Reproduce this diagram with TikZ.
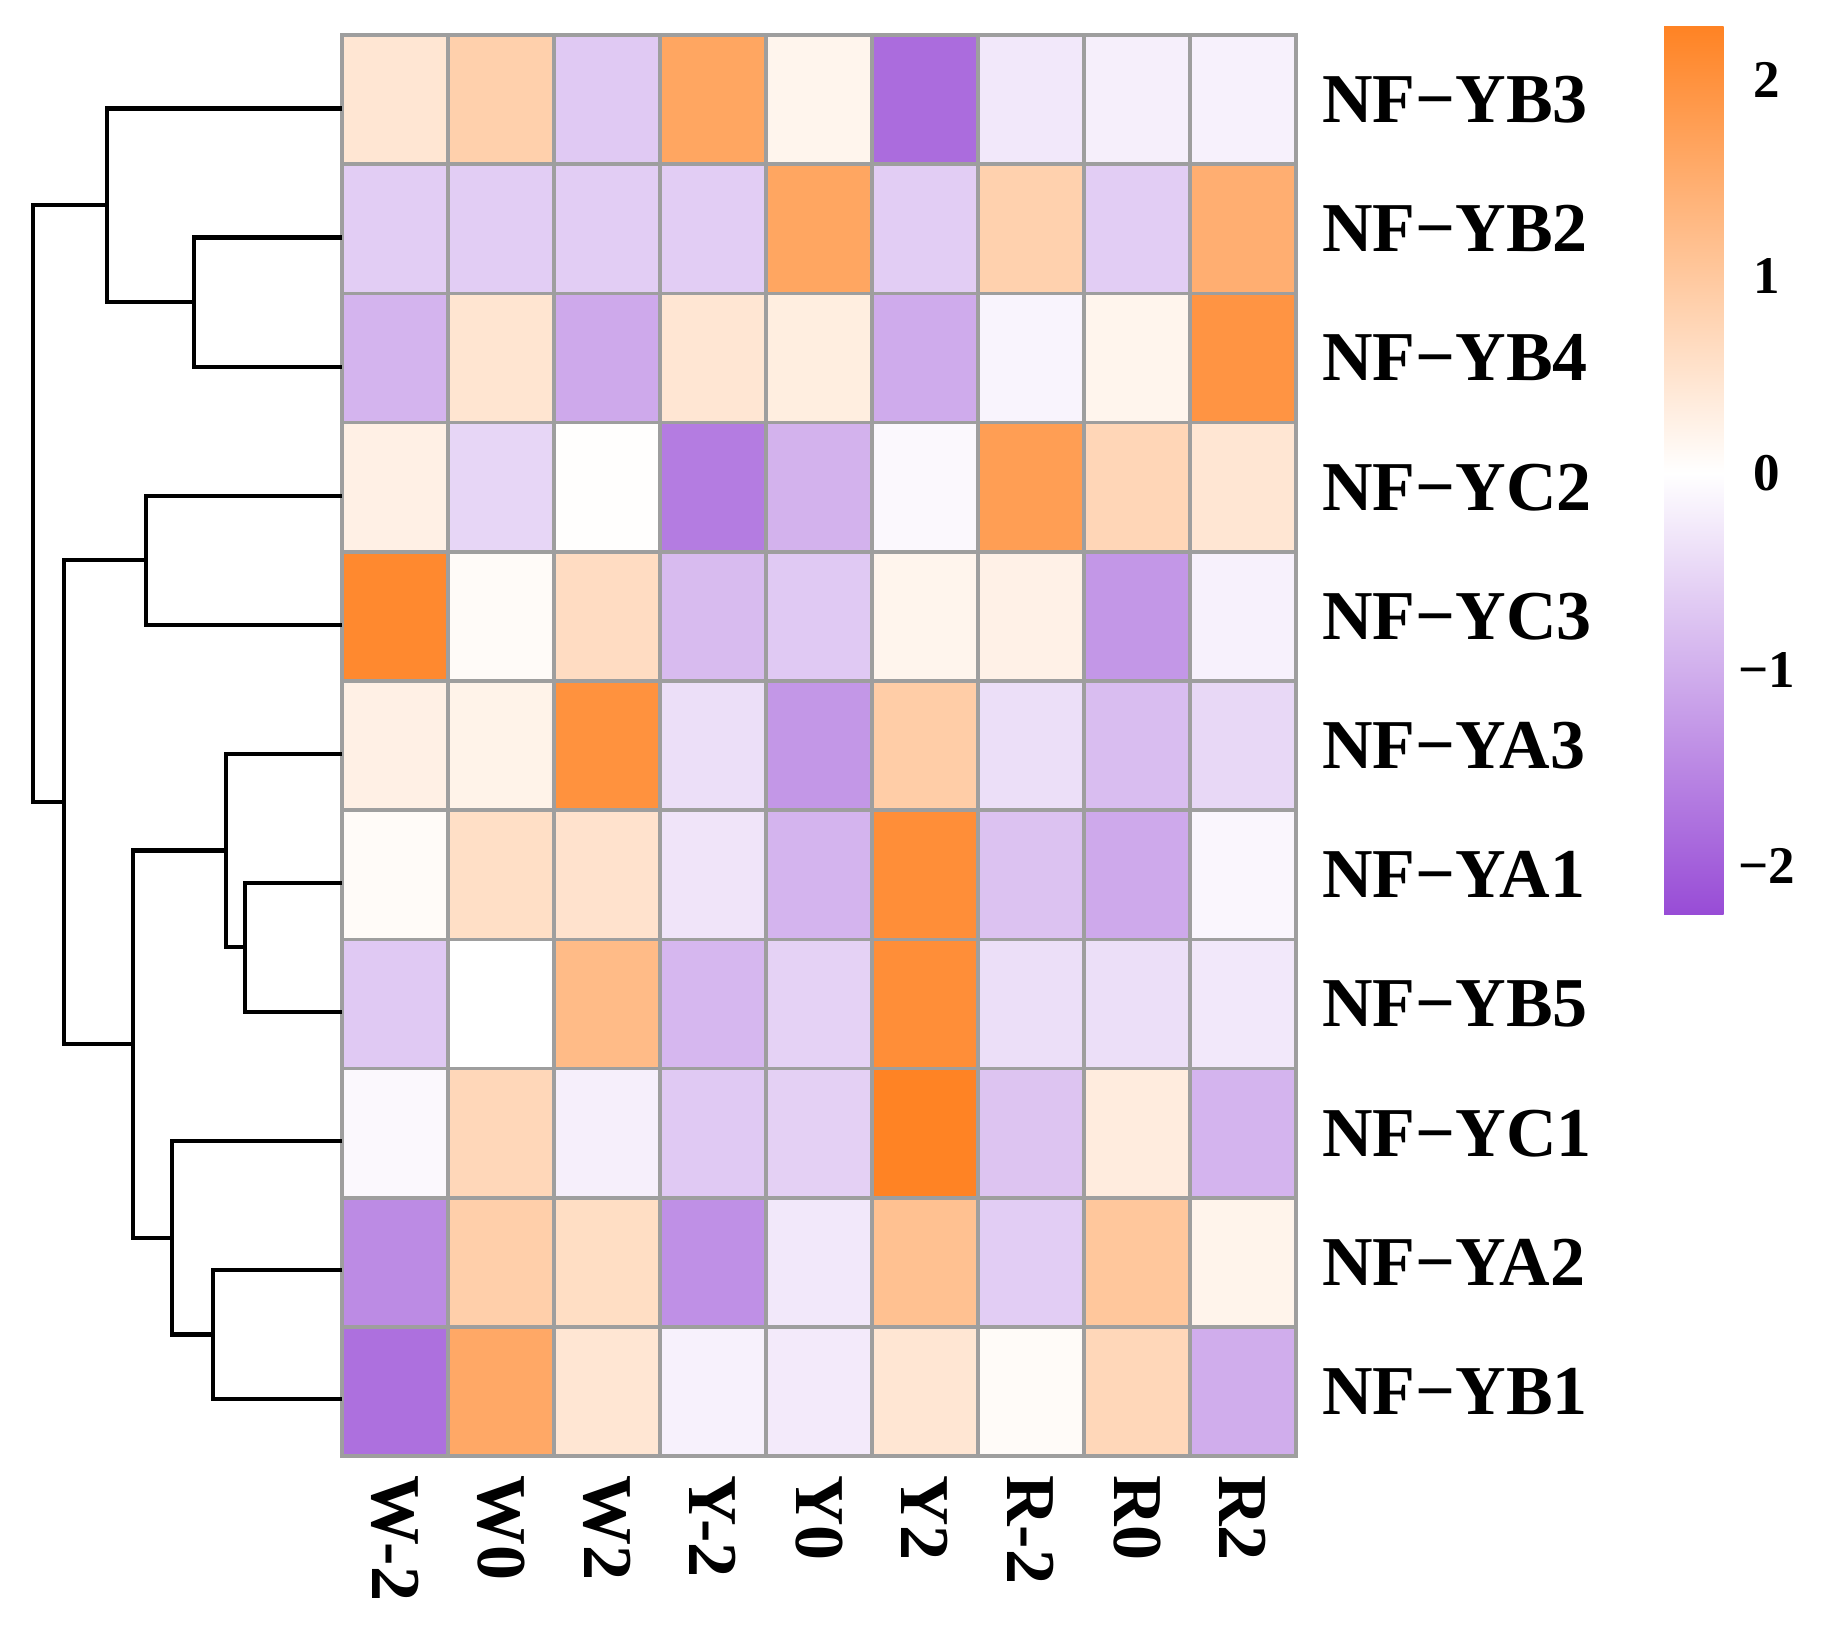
\documentclass[tikz,border=0pt]{standalone}
\usepackage{fontspec}
\setmainfont{Liberation Serif}
\usepackage{xcolor}
\definecolor{hiorange}{RGB}{255,131,36}
\definecolor{lopurple}{RGB}{152,76,214}
\definecolor{gridgray}{RGB}{158,158,158}

\begin{document}
\begin{tikzpicture}[x=0.5pt, y=0.5pt,
  cell/.style={draw=gridgray, line width=1.75pt},
  dendro/.style={line width=2.1pt},
  genelabel/.style={anchor=west, inner sep=0pt, font=\fontsize{35}{35}\selectfont\bfseries},
  samplelabel/.style={anchor=west, rotate=-90, inner sep=0pt, font=\fontsize{35}{35}\selectfont\bfseries},
  ticklabel/.style={inner sep=0pt, font=\fontsize{26.5}{26.5}\selectfont\bfseries}]
  \useasboundingbox (0,0) rectangle (1829,-1631);

  % heatmap cells and gene labels
  \foreach \gene/\vals [count=\r] in {
      B3/{20,38,-30,72,8,-82,-13,-9,-8},
      B2/{-28,-28,-28,-28,72,-28,37,-28,65},
      B4/{-42,21,-48,20,14,-47,-6,8,86},
      C2/{12,-23,1,-73,-43,-4,78,33,20},
      C3/{95,3,28,-38,-30,8,11,-58,-8},
      A3/{12,10,88,-18,-58,40,-18,-37,-22},
      A1/{3,26,23,-15,-42,91,-34,-48,-5},
      B5/{-30,0,55,-40,-25,91,-18,-18,-13},
      C1/{-4,32,-9,-30,-26,100,-33,15,-42},
      A2/{-65,39,27,-62,-13,50,-28,45,9},
      B1/{-80,70,20,-8,-12,20,3,32,-46}}{
    \pgfmathsetmacro{\yt}{-35-(\r-1)*129.2}
    \pgfmathsetmacro{\yl}{-108.5-(\r-1)*129.05}
    \foreach \v [count=\c] in \vals {
      \pgfmathtruncatemacro{\a}{abs(\v)}
      \ifnum\v<0 \colorlet{cellc}{lopurple!\a!white}\else\colorlet{cellc}{hiorange!\a!white}\fi
      \pgfmathsetmacro{\xl}{342+(\c-1)*106}
      \draw[cell, fill=cellc] (\xl,\yt) rectangle ++(106,-129.2);
    }
    \node[genelabel] (gene-\gene) at (1322,\yt-64.6) {NF−Y\gene};
    \coordinate (leaf-\gene) at (342,\yl);
  }

  % sample labels
  \foreach \s [count=\c] in {W-2,W0,W2,Y-2,Y0,Y2,R-2,R0,R2}
    \node[samplelabel] (sample-\c) at (342+\c*106-53,-1475) {\s};

  % dendrogram
  \coordinate (n1) at (194,-302.1);
  \coordinate (n2) at (107,-205.3);
  \coordinate (n3) at (145.7,-560.2);
  \coordinate (n4) at (245,-947.3);
  \coordinate (n5) at (226,-850.5);
  \coordinate (n6) at (213,-1334.5);
  \coordinate (n7) at (172,-1237.7);
  \coordinate (n8) at (133.3,-1044.1);
  \coordinate (n9) at (64,-802.2);
  \coordinate (root) at (32.7,-503.7);
  \draw[dendro] (leaf-B2) -| (n1) |- (leaf-B4);
  \draw[dendro] (leaf-B3) -| (n2) |- (n1);
  \draw[dendro] (leaf-C2) -| (n3) |- (leaf-C3);
  \draw[dendro] (leaf-A1) -| (n4) |- (leaf-B5);
  \draw[dendro] (leaf-A3) -| (n5) |- (n4);
  \draw[dendro] (leaf-A2) -| (n6) |- (leaf-B1);
  \draw[dendro] (leaf-C1) -| (n7) |- (n6);
  \draw[dendro] (n5) -| (n8) |- (n7);
  \draw[dendro] (n3) -| (n9) |- (n8);
  \draw[dendro] (n2) -| (root) |- (n9);

  % colour key
  \shade[top color=hiorange, bottom color=white] (1664,-26.8) rectangle (1723.5,-473);
  \shade[top color=white, bottom color=lopurple] (1664,-473) rectangle (1723.5,-914);
  \foreach \t/\lab [count=\i] in {2/2,1/1,0/0,-1/−1,-2/−2}
    \node[ticklabel] (tick-\i) at (1767,-473+\t*196.6) {\lab};
\end{tikzpicture}
\end{document}
